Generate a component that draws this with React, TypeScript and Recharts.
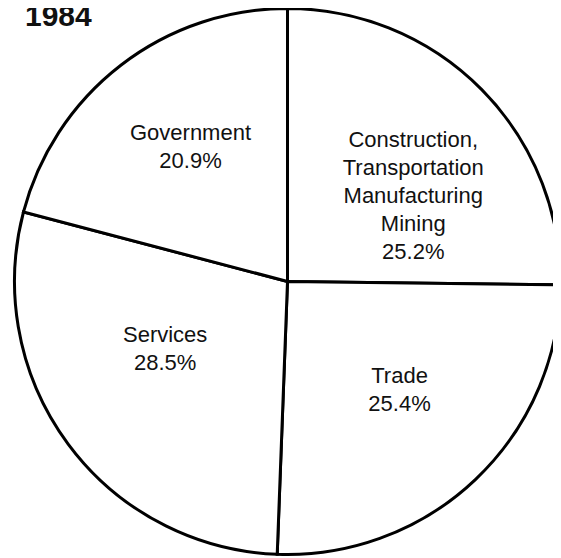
import React from 'react';
import { PieChart, Pie, Cell } from 'recharts';

const TITLE = '1984';
const categories = [
  'Construction,\nTransportation\nManufacturing\nMining',
  'Trade',
  'Services',
  'Government',
];
const shares = [25.2, 25.4, 28.5, 20.9];

// label placement: angle shift from slice middle (deg) and radius fraction
const labelShift = [-10, 2.5, -8, -2];
const labelRadius = [0.56, 0.57, 0.51, 0.61];

const data = categories.map((name, i) => ({ name, value: shares[i] }));

const RADIAN = Math.PI / 180;
const FONT = '"Liberation Sans", Arial, sans-serif';
const LINE_H = 28;

const renderLabel = (props: any) => {
  const { cx, cy, midAngle, outerRadius, index } = props;
  const a = (midAngle + labelShift[index]) * RADIAN;
  const r = outerRadius * labelRadius[index];
  const x = cx + r * Math.cos(a);
  const y = cy - r * Math.sin(a);
  const lines = [...categories[index].split('\n'), `${shares[index].toFixed(1)}%`];
  const top = y - ((lines.length - 1) * LINE_H) / 2;
  return (
    <text x={x} y={top} textAnchor="middle" dominantBaseline="central" fontFamily={FONT} fontSize={22} fill="#111">
      {lines.map((l, j) => (
        <tspan key={j} x={x} y={top + j * LINE_H}>{l}</tspan>
      ))}
    </text>
  );
};

export default function App() {
  return (
    <div style={{ position: 'relative', width: 553, height: 550 }}>
      <div style={{ position: 'absolute', left: 17, top: -9, fontFamily: FONT, fontWeight: 'bold', fontSize: 30, color: '#111', zIndex: 1 }}>
        {TITLE}
      </div>
      <PieChart width={553} height={550} margin={{ top: 0, right: 0, bottom: 0, left: 0 }}>
        <Pie
          data={data}
          dataKey="value"
          nameKey="name"
          cx={279.5}
          cy={273.5}
          outerRadius={273}
          startAngle={90}
          endAngle={-270}
          stroke="#000"
          strokeWidth={3}
          label={renderLabel}
          labelLine={false}
          isAnimationActive={false}
        >
          {data.map((_, i) => <Cell key={i} fill="#fff" />)}
        </Pie>
      </PieChart>
    </div>
  );
}
